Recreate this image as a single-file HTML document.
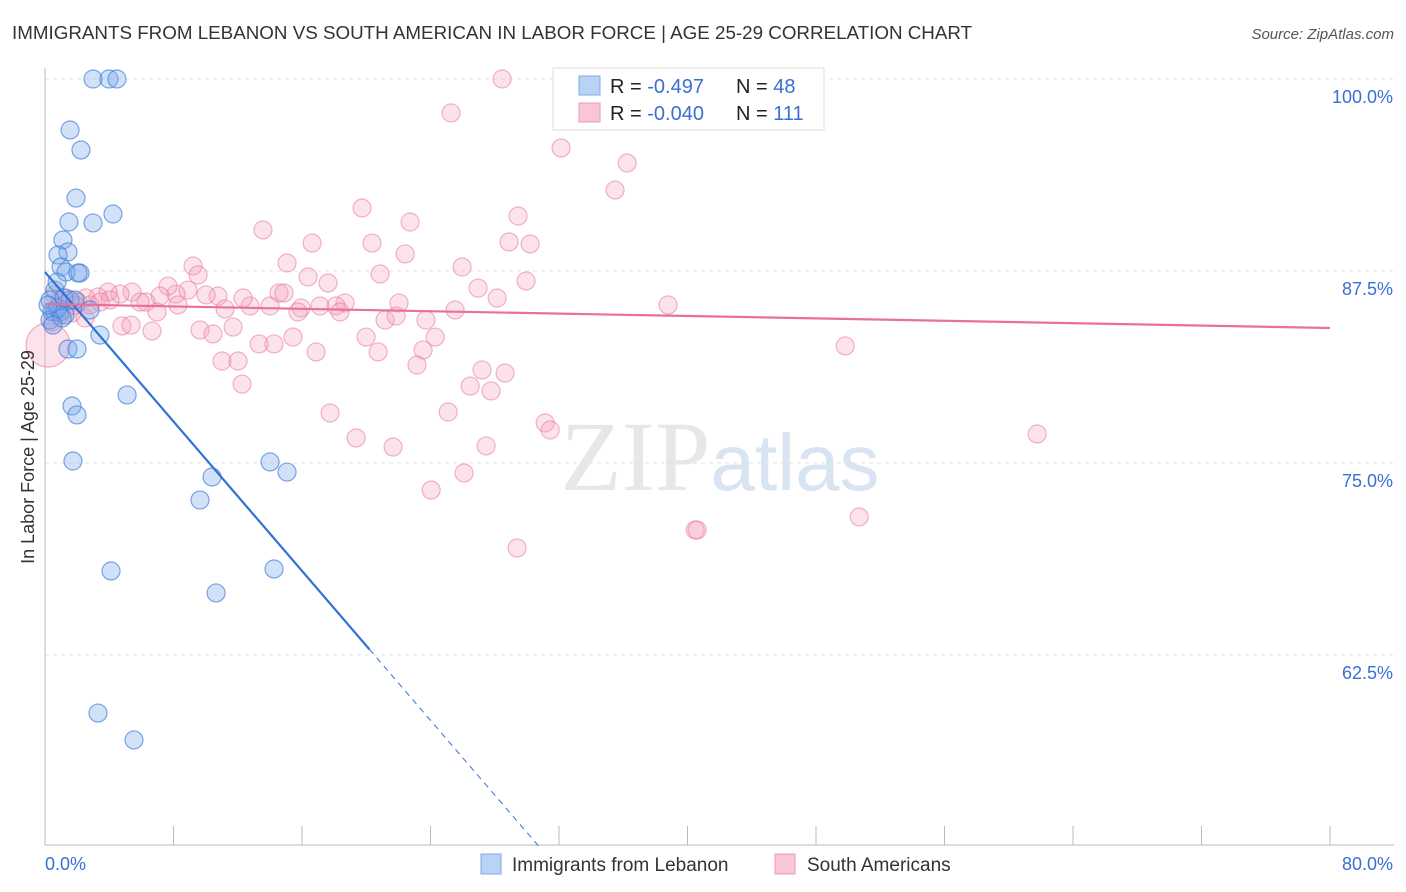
<!DOCTYPE html>
<html><head><meta charset="utf-8"><style>
body{margin:0;background:#fff;font-family:"Liberation Sans",sans-serif;}
svg{display:block}
</style></head><body>
<svg id="chart" width="1406" height="892" xmlns="http://www.w3.org/2000/svg">
<text x="12" y="39" font-size="18.8" fill="#333">IMMIGRANTS FROM LEBANON VS SOUTH AMERICAN IN LABOR FORCE | AGE 25-29 CORRELATION CHART</text>
<text x="1394" y="39" font-size="15" fill="#555" text-anchor="end" font-style="italic">Source: ZipAtlas.com</text>
<text x="720" y="490" font-size="100" text-anchor="middle" font-family="Liberation Serif" fill="#ddd" opacity="0.7">ZIP<tspan fill="#c9d9ee" font-family="Liberation Sans" font-size="80">atlas</tspan></text>
<g id="grid"></g>
<g id="axes"></g>
<g id="pink"></g>
<g id="blue"></g>
<g id="trends"></g>
<text transform="translate(34,457) rotate(-90)" font-size="18" fill="#333" text-anchor="middle">In Labor Force | Age 25-29</text>
<g>
<rect x="553" y="68" width="271" height="62" fill="#fff" stroke="#ddd"/>
<rect x="579" y="76" width="21" height="19" fill="#b8d3f5" stroke="#7fa9e0"/>
<rect x="579" y="103" width="21" height="19" fill="#f9c6d5" stroke="#ec9ab3"/>
<text x="610" y="93" font-size="20" fill="#222">R = <tspan fill="#3a70d0"> -0.497</tspan><tspan x="736">N = </tspan><tspan fill="#3a70d0">48</tspan></text>
<text x="610" y="120" font-size="20" fill="#222">R = <tspan fill="#3a70d0">-0.040</tspan><tspan x="736">N = </tspan><tspan fill="#3a70d0">111</tspan></text>
</g>
<g>
<rect x="481" y="854" width="20" height="20" fill="#b8d3f5" stroke="#7fa9e0"/>
<text x="512" y="871" font-size="19" fill="#333">Immigrants from Lebanon</text>
<rect x="775" y="854" width="20" height="20" fill="#f9c6d5" stroke="#ec9ab3"/>
<text x="807" y="871" font-size="19" fill="#333">South Americans</text>
</g>
</svg>
<script>
const yTicks=[100,87.5,75,62.5];
const yTickLabels=["100.0%","87.5%","75.0%","62.5%"];
const xAxisLabels=["0.0%","80.0%"];
const blueX=[2.99,3.98,4.48,1.56,2.24,1.93,1.49,2.99,4.23,1.12,1.43,0.81,1.0,1.31,2.18,2.05,0.62,0.31,0.44,0.62,0.93,1.25,3.42,1.43,1.99,5.11,1.68,1.99,1.74,10.4,14.01,15.07,9.65,4.11,14.26,10.65,3.3,5.54,0.81,0.31,1.06,1.56,0.19,0.5,0.75,1.18,1.87,2.8];
const blueY=[100,100,100,96.68,95.38,92.25,90.69,90.63,91.21,89.52,88.74,88.54,87.76,87.43,87.37,87.37,86.26,85.61,84.83,84.83,84.83,84.64,83.33,82.42,82.42,79.43,78.71,78.13,75.13,74.09,75.07,74.41,72.59,67.97,68.1,66.54,58.72,56.97,85.09,84.31,84.44,85.61,85.29,83.98,86.78,85.74,85.61,84.96];
const pinkX=[28.46,32.5,38.17,25.28,32.13,36.24,35.49,19.74,22.73,29.45,13.57,16.63,20.36,28.89,30.2,22.42,15.07,25.97,20.86,16.38,29.95,9.22,9.53,17.62,26.96,28.15,38.79,22.04,25.53,18.68,18.12,17.12,15.94,14.57,14.88,14.01,12.77,12.33,10.77,10.03,8.9,8.16,7.66,7.16,6.29,5.42,4.67,3.92,3.3,2.55,2.05,1.31,0.93,1.68,2.49,5.92,6.97,8.28,11.21,15.75,18.37,21.17,21.86,23.72,4.79,5.36,6.66,9.65,10.46,11.71,13.33,14.26,15.44,16.88,19.99,20.74,23.54,24.29,23.16,11.02,12.02,12.27,26.47,27.21,27.77,28.64,17.75,25.1,31.14,31.45,19.37,21.67,27.46,26.09,24.04,29.39,40.48,40.6,50.69,49.82,61.77,0.19,0.44,0.93,2.8,4.05,0.62,1.25,1.87,3.43];
const pinkY=[100,100,100,97.79,95.51,94.53,92.77,91.6,90.69,91.08,90.17,89.32,89.32,89.39,89.26,88.61,88.02,87.76,87.31,87.11,86.85,87.83,87.24,86.72,86.39,85.74,85.29,85.42,84.96,85.42,85.22,85.22,85.09,86.07,86.07,85.22,85.22,85.74,85.87,85.94,86.26,86.0,86.52,85.87,85.48,86.13,86.0,86.13,85.81,85.74,85.48,85.74,85.61,84.77,84.44,85.48,84.83,85.29,85.03,84.83,84.83,84.31,84.57,84.31,83.92,83.98,83.59,83.66,83.4,83.85,82.75,82.75,83.2,82.23,83.2,82.23,82.36,83.2,81.38,81.64,81.64,80.14,80.01,81.06,79.69,80.86,78.26,78.32,77.61,77.15,76.63,76.04,76.11,74.35,73.24,69.47,70.64,70.64,71.49,82.62,76.89,82.68,84.18,84.64,85.29,85.61,85.94,84.96,85.29,85.48];
const blueTrend=[87.43,-1.216];
const pinkTrend=[85.35,-0.0195];
const NS="http://www.w3.org/2000/svg";
const X=v=>45+v/80*1285;
const Y=v=>79+(100-v)*15.36;
function mk(p,t,a){const e=document.createElementNS(NS,t);for(const k in a)e.setAttribute(k,a[k]);p.appendChild(e);return e;}
const grid=document.getElementById('grid'),axes=document.getElementById('axes');
yTicks.forEach((t,i)=>{
 const l=mk(grid,'line',{x1:45,x2:1394,y1:Y(t),y2:Y(t),stroke:'#e3e3e3','stroke-dasharray':'4,4'});
 
 
 const tx=mk(axes,'text',{x:1393,y:Y(t)+24,'font-size':18,fill:'#3a70d0','text-anchor':'end'});
 tx.textContent=yTickLabels[i];
 
 
});
mk(axes,'line',{x1:45,x2:45,y1:68,y2:845,stroke:'#bbb'});
mk(axes,'line',{x1:45,x2:1394,y1:845,y2:845,stroke:'#bbb'});
for(let i=0;i<=10;i++){const l=mk(axes,'line',{x1:X(i*8),x2:X(i*8),y1:826,y2:845,stroke:'#bbb'});
 
 }
const xl0=mk(axes,'text',{x:45,y:870,'font-size':18,fill:'#3a70d0'});xl0.textContent=xAxisLabels[0];


const xl1=mk(axes,'text',{x:1393,y:870,'font-size':18,fill:'#3a70d0','text-anchor':'end'});xl1.textContent=xAxisLabels[1];


const pg=document.getElementById('pink');
pinkX.forEach((x,i)=>{const r=(i===pinkX.length-9)?22:9;const c=mk(pg,'circle',{cx:X(x),cy:Y(pinkY[i]),r:r,fill:'rgba(244,160,188,0.3)',stroke:'rgba(230,120,155,0.55)','stroke-width':1.2});
 
 });
const bg=document.getElementById('blue');
blueX.forEach((x,i)=>{const c=mk(bg,'circle',{cx:X(x),cy:Y(blueY[i]),r:9,fill:'rgba(120,170,235,0.35)',stroke:'rgba(60,120,215,0.65)','stroke-width':1.2});
 
 });
const tg=document.getElementById('trends');
const bt=v=>blueTrend[0]+blueTrend[1]*v;
const l1=mk(tg,'line',{x1:X(0),y1:Y(bt(0)),x2:X(20.2),y2:Y(bt(20.2)),stroke:'#2f72d6','stroke-width':2.2});


const xe=(50-blueTrend[0])/blueTrend[1];
const l2=mk(tg,'line',{x1:X(20.2),y1:Y(bt(20.2)),x2:X(xe),y2:Y(50),stroke:'#2f72d6','stroke-width':1,'stroke-dasharray':'6,5'});


const pt=v=>pinkTrend[0]+pinkTrend[1]*v;
const l3=mk(tg,'line',{x1:X(0),y1:Y(pt(0)),x2:X(80),y2:Y(pt(80)),stroke:'#e8709a','stroke-width':2.2});


</script>
</body></html>
